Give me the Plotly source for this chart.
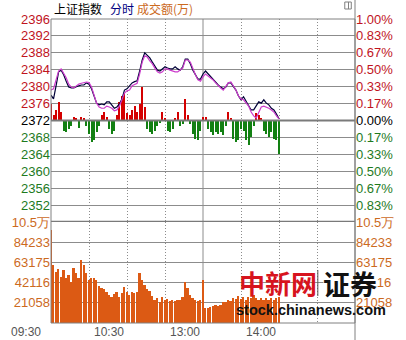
import plotly.graph_objects as go

# minute index counted from 09:30, lunch break removed (120 = 11:30/13:00)
MINUTES = list(range(0, 181, 2))

PRICE = [
    2378.0, 2377.1, 2380.2, 2383.5, 2383.9, 2382.8, 2381.3, 2379.9, 2379.7, 2379.7,
    2380.0, 2380.2, 2380.4, 2380.4, 2380.9, 2380.6, 2379.5, 2377.8, 2376.1, 2375.7,
    2375.9, 2375.7, 2376.4, 2376.4, 2375.7, 2374.9, 2375.2, 2375.9, 2377.1, 2379.2,
    2379.5, 2380.2, 2380.9, 2381.2, 2381.4, 2383.7, 2386.3, 2388.0, 2387.5, 2386.8,
    2385.8, 2384.9, 2383.9, 2383.7, 2384.2, 2384.7, 2384.4, 2384.2, 2384.2, 2384.7,
    2384.2, 2383.9, 2384.7, 2386.5, 2386.5, 2385.4, 2383.9, 2382.8, 2381.8, 2381.8,
    2383.0, 2383.7, 2383.0, 2382.3, 2381.6, 2381.1, 2380.4, 2379.9, 2379.5, 2379.9,
    2380.9, 2380.9, 2379.9, 2379.2, 2377.8, 2376.9, 2377.6, 2376.6, 2375.7, 2374.5,
    2374.5, 2375.4, 2376.4, 2376.1, 2376.9, 2376.1, 2375.7, 2374.9, 2374.5, 2373.5,
    2372.4,
]

AVG_PRICE = [
    2379.2, 2379.5, 2381.6, 2383.7, 2384.2, 2383.2, 2382.1, 2380.6, 2379.9, 2379.7,
    2380.2, 2380.6, 2380.8, 2380.9, 2381.1, 2381.0, 2379.9, 2378.0, 2376.1, 2375.2,
    2374.9, 2374.9, 2375.4, 2375.2, 2374.9, 2374.3, 2374.5, 2375.4, 2376.9, 2378.5,
    2379.0, 2379.2, 2380.2, 2380.6, 2380.8, 2383.0, 2385.8, 2387.3, 2387.0, 2386.1,
    2385.4, 2384.4, 2383.5, 2383.2, 2383.5, 2384.2, 2384.2, 2383.9, 2383.7, 2383.5,
    2383.5, 2383.9, 2384.4, 2386.3, 2386.3, 2385.8, 2384.2, 2382.8, 2381.6, 2381.3,
    2382.3, 2383.0, 2382.5, 2382.1, 2381.6, 2380.9, 2380.2, 2379.7, 2379.2, 2380.2,
    2380.9, 2381.1, 2380.2, 2379.2, 2377.8, 2377.1, 2376.9, 2376.1, 2375.4, 2374.0,
    2373.1, 2372.6, 2374.0, 2375.2, 2375.4, 2375.2, 2374.9, 2374.5, 2374.0, 2373.1,
    2372.4,
]

# buy/sell strength bars, drawn from the previous close (index points)
STRENGTH = [
    4.0, 1.4, 2.4, 4.3, 1.9, -2.4, -2.8, -1.9, -1.4, 0.9,
    0.7, -1.7, 0.9, 0.5, -1.2, -3.3, -5.2, -4.7, -2.8, -1.4,
    1.2, 1.9, 0.9, -1.9, -3.3, -2.4, 1.4, 4.3, 5.7, 6.6,
    1.7, 1.4, 2.6, 3.5, 2.1, 3.8, 8.0, 3.3, -1.9, -2.8,
    -3.1, -2.4, -1.4, -0.7, 1.9, 0.7, -2.4, -2.8, -1.9, 0.7,
    2.1, -1.2, -0.9, 5.2, 1.4, -0.9, -3.3, -4.3, -4.7, -2.4,
    0.9, 0.9, -1.9, -2.8, -3.5, -2.6, -3.3, -2.8, -3.5, -1.4,
    2.1, 0.7, -4.3, -5.0, -4.7, -1.9, -2.4, -4.7, -5.7, -3.8,
    -1.4, 1.7, 1.2, 0.7, -2.4, -3.3, -3.8, -2.8, -4.3, -4.5,
    -8.0,
]

VOLUME = [
    97000, 60000, 53500, 56000, 48300, 55300, 47000, 50000, 43000, 57000,
    51800, 47000, 65700, 60000, 52000, 45000, 47000, 47000, 44800, 38500,
    36100, 35500, 32600, 29200, 27400, 30000, 32000, 27000, 31000, 37900,
    32000, 29200, 32600, 31000, 32600, 51800, 45000, 39600, 35000, 33000,
    28000, 24500, 26000, 22000, 27000, 24500, 25000, 23000, 24000, 22500,
    23500, 24000, 27400, 43100, 36100, 29000, 26000, 24000, 22500, 23500,
    44800, 16000, 15300, 17000, 17500, 18800, 17500, 19000, 22200, 21500,
    24500, 23000, 26000, 25000, 28000, 25000, 27000, 24500, 27000, 26000,
    29000, 25700, 24000, 26000, 23500, 25700, 24000, 26500, 24000, 25700,
    27000,
]

PREV_CLOSE = 2372
PRICE_MIN, PRICE_MAX = 2348, 2396
PRICE_TICKS = [2396, 2392, 2388, 2384, 2380, 2376, 2372, 2368, 2364, 2360, 2356, 2352]
PCT_LABELS = ["1.00%", "0.83%", "0.67%", "0.50%", "0.33%", "0.17%", "0.00%",
              "0.17%", "0.33%", "0.50%", "0.67%", "0.83%"]
VOL_MAX = 105291
VOL_TICKS = [21058, 42116, 63175, 84233, 105291]
VOL_LABELS = ["21058", "42116", "63175", "84233", "10.5万"]
GRID_MINUTES = [30, 60, 90, 150, 180, 210]
MIDDAY = 120
TIME_TICKS = [0, 60, 120, 180]
TIME_LABELS = ["09:30", "10:30", "13:00", "14:00"]
TITLE_PARTS = ["上证指数", "分时", "成交额(万)"]

RED = "#d40000"
GREEN = "#128012"
ORANGE = "#dc5a14"
LBL_RED = "#c0141e"
LBL_GREEN = "#1e7a1e"
LBL_ORANGE = "#cc6a1e"
GRID = "#8c8c8c"
NAVY = "#000038"
MAGENTA = "#cc3ccc"
FONT = "Liberation Sans, Arial, sans-serif"
CJK = "Noto Sans CJK SC"

W, H = 406, 340
ML, MR, MT, MB = 41, 38, 19, 17
PW, PH = W - ML - MR, H - MT - MB
VDOM = 101 / PH


def px_x(px):
    return (px - ML) / PW


def px_y(py):
    return (PH + MT - py) / PH


def span(text, color):
    return f'<span style="color:{color}">{text}</span>'


def price_color(p):
    if p > PREV_CLOSE:
        return LBL_RED
    if p < PREV_CLOSE:
        return LBL_GREEN
    return "#000000"


price_text = [span(str(p), price_color(p)) for p in PRICE_TICKS]
pct_text = [span(t, price_color(p)) for t, p in zip(PCT_LABELS, PRICE_TICKS)]
vol_text = [span(t, LBL_ORANGE) for t in VOL_LABELS]

fig = go.Figure()
fig.add_trace(go.Bar(
    x=MINUTES, y=STRENGTH, base=PREV_CLOSE, width=0.8,
    marker=dict(color=[RED if v > 0 else GREEN for v in STRENGTH], line=dict(width=0)),
    xaxis="x", yaxis="y", hoverinfo="skip", showlegend=False))
fig.add_trace(go.Scatter(
    x=MINUTES, y=PRICE, mode="lines", line=dict(color=NAVY, width=1.2),
    xaxis="x", yaxis="y", hoverinfo="skip", showlegend=False))
fig.add_trace(go.Scatter(
    x=MINUTES, y=AVG_PRICE, mode="lines", line=dict(color=MAGENTA, width=1.2),
    xaxis="x", yaxis="y", hoverinfo="skip", showlegend=False))
fig.add_trace(go.Bar(
    x=MINUTES, y=VOLUME, width=1.4, marker=dict(color=ORANGE, line=dict(width=0)),
    xaxis="x", yaxis="y2", hoverinfo="skip", showlegend=False))
# helper traces so the right-hand axes are drawn
fig.add_trace(go.Scatter(x=[MINUTES[0]], y=[PREV_CLOSE], mode="markers", marker=dict(opacity=0),
                         xaxis="x", yaxis="y3", hoverinfo="skip", showlegend=False))
fig.add_trace(go.Scatter(x=[MINUTES[0]], y=[0], mode="markers", marker=dict(opacity=0),
                         xaxis="x", yaxis="y4", hoverinfo="skip", showlegend=False))

tick_font = dict(family=FONT, size=13, color="#000000")
common_y = dict(ticks="", zeroline=False, showline=False, fixedrange=True, tickfont=tick_font)

fig.update_layout(
    width=W, height=H,
    margin=dict(l=ML, r=MR, t=MT, b=MB, pad=0),
    paper_bgcolor="white", plot_bgcolor="white",
    barmode="overlay", bargap=0,
    showlegend=False,
    xaxis=dict(domain=[0, 1], range=[0, 240], anchor="y2", tickvals=GRID_MINUTES,
               showticklabels=False, ticks="", showgrid=True, gridcolor=GRID, gridwidth=1,
               griddash="1px,2px", zeroline=False, showline=False, fixedrange=True),
    yaxis=dict(domain=[VDOM, 1], range=[PRICE_MIN, PRICE_MAX], tickvals=PRICE_TICKS,
               ticktext=price_text, showgrid=True, gridcolor=GRID, gridwidth=1,
               anchor="x", side="left", **common_y),
    yaxis3=dict(overlaying="y", range=[PRICE_MIN, PRICE_MAX], tickvals=PRICE_TICKS,
                ticktext=pct_text, showgrid=False, anchor="x", side="right", **common_y),
    yaxis2=dict(domain=[0, VDOM], range=[0, VOL_MAX], tickvals=VOL_TICKS,
                ticktext=vol_text, showgrid=True, gridcolor=GRID, gridwidth=1,
                anchor="x", side="left", **common_y),
    yaxis4=dict(overlaying="y2", range=[0, VOL_MAX], tickvals=VOL_TICKS,
                ticktext=vol_text, showgrid=False, anchor="x", side="right", **common_y),
)

shapes = [
    dict(type="line", xref="x", yref="paper", x0=MIDDAY, x1=MIDDAY, y0=0, y1=1,
         line=dict(color=GRID, width=1), layer="below"),
    # white backing of the watermark's "证券" (hides part of a right label, as in the source)
    dict(type="rect", xref="paper", yref="paper",
         x0=px_x(334), x1=px_x(392), y0=px_y(296), y1=px_y(271),
         line=dict(width=0), fillcolor="white", layer="above"),
    dict(type="line", xref="paper", yref="y", x0=0, x1=1, y0=PREV_CLOSE, y1=PREV_CLOSE,
         line=dict(color="#7a7a7a", width=2), layer="above"),
    dict(type="line", xref="paper", yref="y", x0=0, x1=1, y0=PRICE_MIN, y1=PRICE_MIN,
         line=dict(color="#7a7a7a", width=2.5), layer="above"),
    dict(type="rect", xref="paper", yref="paper", x0=0, x1=1, y0=0, y1=1,
         line=dict(color="#808080", width=1), fillcolor="rgba(0,0,0,0)", layer="above"),
    dict(type="line", xref="paper", yref="paper", x0=1, x1=1, y0=-MB / PH, y1=1 + MT / PH,
         line=dict(color="#808080", width=1), layer="above"),
    # small window icon at the top right
    dict(type="rect", xref="paper", yref="paper",
         x0=px_x(357), x1=px_x(364), y0=px_y(9), y1=px_y(2),
         line=dict(color="#808080", width=1), fillcolor="white", layer="above"),
    dict(type="line", xref="paper", yref="paper",
         x0=px_x(361), x1=px_x(361), y0=px_y(9), y1=px_y(2),
         line=dict(color="#808080", width=1), layer="above"),
    # watermark separator
    dict(type="line", xref="paper", yref="paper",
         x0=px_x(328), x1=px_x(328), y0=px_y(296), y1=px_y(270),
         line=dict(color="#555555", width=1), layer="above"),
]
fig.update_layout(shapes=shapes)

ann = []
for i, (t, lab) in enumerate(zip(TIME_TICKS, TIME_LABELS)):
    ann.append(dict(x=t, xref="x", y=px_y(332), yref="paper", text=lab, showarrow=False,
                    xanchor="right", yanchor="middle", xshift=-8 if i == 0 else -1,
                    font=dict(family=FONT, size=12, color="#555555")))

title_x = [42, 102, 131]
title_colors = ["#000000", "#000080", "#cc6a1e"]
for tx, txt, col in zip(title_x, TITLE_PARTS, title_colors):
    ann.append(dict(x=px_x(tx), xref="paper", y=px_y(8), yref="paper",
                    text=txt, showarrow=False, xanchor="left", yanchor="middle",
                    font=dict(family=CJK, size=12, color=col)))

ann.append(dict(x=px_x(285), xref="paper", y=px_y(282), yref="paper",
                text="<b>中新网</b>", showarrow=False, xanchor="center", yanchor="middle",
                font=dict(family=CJK, size=26, color="#d7141e")))
ann.append(dict(x=px_x(363), xref="paper", y=px_y(283), yref="paper",
                text="<b>证券</b>", showarrow=False, xanchor="center", yanchor="middle",
                font=dict(family=CJK, size=27, color="#111111")))
ann.append(dict(x=px_x(321), xref="paper", y=px_y(310), yref="paper",
                text="<b>stock.chinanews.com</b>", showarrow=False, xanchor="center",
                yanchor="middle", font=dict(family=FONT, size=14.5, color="#111111")))
fig.update_layout(annotations=ann)

fig.write_html("out.html", config={"displayModeBar": False})
